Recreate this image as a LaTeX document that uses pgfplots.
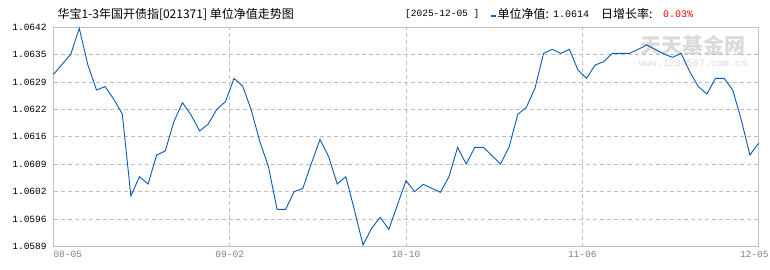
\documentclass[border=0pt]{standalone}
\usepackage{pgfplots}
\pgfplotsset{compat=1.18}
\usepackage{fontspec}
\setmainfont{Liberation Sans}
\newfontfamily\cjk{Noto Sans CJK SC}
\newfontfamily\mono{Liberation Mono}
\definecolor{navline}{RGB}{10,90,175}
\definecolor{gridgray}{RGB}{190,190,190}
\definecolor{axgray}{RGB}{192,192,192}
\definecolor{labgray}{RGB}{128,128,128}
\definecolor{wm}{RGB}{218,218,218}
\definecolor{upred}{RGB}{230,0,0}
\begin{document}
\begin{tikzpicture}
\path[use as bounding box] (0,0) rectangle (770bp,270bp);
\node[anchor=center, text=wm, font=\cjk\fontsize{21bp}{21bp}\selectfont\bfseries] at (693bp,225bp) {天天基金网};
\node[anchor=center, text=wm, font=\mono\fontsize{10bp}{10bp}\selectfont] at (693bp,207bp) {www.1234567.com.cn};
\begin{axis}[
  at={(53.5bp,23.3bp)}, anchor=south west,
  width=705bp, height=219.7bp, scale only axis,
  xmin=0, xmax=82, ymin=1.0589, ymax=1.0642,
  xtick={0,20.5,41,61.5,82},
  xticklabels={\makebox[0pt][l]{08-05},09-02,10-10,11-06,\makebox[0pt][r]{12-05\hspace{-10bp}}},
  ytick={1.0589,1.0595625,1.060225,1.0608875,1.06155,1.0622125,1.062875,1.0635375,1.0642},
  yticklabels={1.0589,1.0596,1.0602,1.0609,1.0616,1.0622,1.0629,1.0635,1.0642},
  grid=major,
  major grid style={gridgray, dash pattern=on 4bp off 3bp, line width=0.7bp},
  axis line style={axgray, line width=0.9bp},
  major tick length=0pt,
  /pgf/number format/assume math mode=true,
  ticklabel style={font=\mono\fontsize{9.5bp}{9.5bp}\selectfont},
  xticklabel style={text=labgray, yshift=-1bp},
  yticklabel style={text=black, xshift=-3.4bp},
  clip=false,
]
\addplot[navline, line width=0.9bp, mark=none] table {
x y
0 1.063058
1 1.063299
2 1.063541
3 1.064168
4 1.063283
5 1.062680
6 1.062761
7 1.062463
8 1.062101
9 1.060123
10 1.060590
11 1.060413
12 1.061112
13 1.061209
14 1.061916
15 1.062375
16 1.062077
17 1.061691
18 1.061860
19 1.062214
20 1.062399
21 1.062962
22 1.062777
23 1.062198
24 1.061434
25 1.060831
26 1.059802
27 1.059802
28 1.060228
29 1.060308
30 1.060911
31 1.061490
32 1.061072
33 1.060413
34 1.060590
35 1.059785
36 1.058941
37 1.059343
38 1.059609
39 1.059319
40 1.059906
41 1.060493
42 1.060228
43 1.060405
44 1.060308
45 1.060212
46 1.060590
47 1.061297
48 1.060895
49 1.061297
50 1.061297
51 1.061096
52 1.060895
53 1.061313
54 1.062093
55 1.062262
56 1.062721
57 1.063565
58 1.063661
59 1.063565
60 1.063661
61 1.063163
62 1.062962
63 1.063283
64 1.063364
65 1.063565
66 1.063565
67 1.063565
68 1.063661
69 1.063766
70 1.063661
71 1.063549
72 1.063468
73 1.063565
74 1.063123
75 1.062761
76 1.062584
77 1.062962
78 1.062962
79 1.062680
80 1.061957
81 1.061112
82 1.061394
};
\end{axis}
\node[anchor=west, font=\cjk\fontsize{12bp}{12bp}\selectfont] at (54bp,256bp) {华宝1-3年国开债指[021371] 单位净值走势图};
\node[anchor=west, inner sep=0pt, font=\mono\fontsize{9.5bp}{9.5bp}\selectfont] at (405bp,256bp) {[2025-12-05 ]};
\fill[navline] (491bp,253.3bp) rectangle (496bp,255.3bp);
\node[anchor=west, inner sep=0pt, font=\cjk\fontsize{12bp}{12bp}\selectfont] at (497.5bp,256bp) {单位净值:};
\node[anchor=west, inner sep=0pt, font=\mono\fontsize{10bp}{10bp}\selectfont] at (553bp,256bp) {1.0614};
\node[anchor=west, inner sep=0pt, font=\cjk\fontsize{12bp}{12bp}\selectfont] at (601bp,256bp) {日增长率:};
\node[anchor=west, inner sep=0pt, text=upred, font=\mono\fontsize{10bp}{10bp}\selectfont] at (663bp,256bp) {0.03\%};
\end{tikzpicture}
\end{document}
